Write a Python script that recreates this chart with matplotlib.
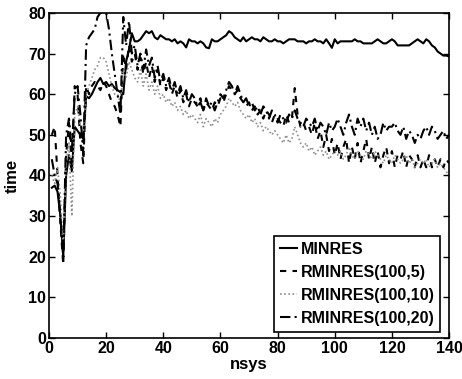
import numpy as np
import matplotlib
matplotlib.use("Agg")
from matplotlib import pyplot as plt

plt.rcParams['font.family'] = ['Liberation Sans', 'DejaVu Sans']

nsys = np.arange(1, 141)

minres = [
    37, 37.5, 36, 30, 20, 40, 45, 41, 52, 51,
    50, 49, 59.5, 59, 60, 61.5, 63, 64, 62.5, 63,
    62, 62.5, 61.5, 61, 60.5, 60, 68, 71, 75, 73,
    73, 73.5, 74.5, 75.5, 75, 75.5, 74, 73.5, 74.5, 74,
    73.5, 73.5, 73, 73.5, 72.5, 73, 72.5, 71.5, 73.5, 73,
    73, 72.5, 73, 72.5, 71.5, 71.3, 73.5, 73, 73, 73.5,
    74, 74.5, 75.5, 75, 74, 73.5, 73, 74, 73, 73.5,
    74, 73.5, 73.5, 73, 74, 73.5, 73, 73, 73.5, 73,
    73, 72.5, 73, 73.5, 73.5, 73.5, 73, 73, 73, 72.5,
    73, 73, 73.5, 73, 73, 72.5, 73.5, 72.5, 71.4, 73.5,
    72.5, 73, 73, 73, 73, 73, 73.5, 73, 73, 72.5,
    72.5, 72.5, 72.5, 73, 73.5, 73, 72.5, 72.5, 73, 73.5,
    73, 72, 72, 72, 72, 72, 72.5, 73, 73.5, 73,
    72.5, 73.5, 73, 72, 71.5, 70.5, 70, 69.5, 69.5, 69.3]

rminres_5 = [
    50, 52, 40, 28, 18, 45, 53, 42, 62, 60,
    48, 43, 62, 60, 62, 63, 62, 61, 63, 62,
    60, 58, 57, 55, 52, 70, 66, 72, 68, 70,
    66, 69, 65, 68, 64, 67, 63, 66, 62, 64,
    61, 63, 60, 62, 59, 61, 58, 60, 57, 59,
    58, 57, 59, 56, 58, 57, 56, 58, 57, 59,
    58, 60, 62, 61, 60, 61, 59, 58, 57, 58,
    56, 57, 55, 56, 54, 56, 55, 53, 55, 54,
    53, 52, 55, 53, 54, 61.5, 55, 52, 53, 51,
    52, 50, 53, 49, 51, 47, 50, 46, 49, 45,
    48, 44, 47, 49, 43, 47, 44, 48, 43, 46,
    49, 44, 47, 43, 46, 42, 45, 47, 43, 46,
    42, 45, 44, 46, 42, 45, 44, 42, 45, 42,
    44, 42, 45, 42, 44, 42, 44, 42, 44, 43]

rminres_10 = [
    40, 38, 42, 35, 22, 43, 48, 30, 55, 57,
    52, 50, 60, 62, 64, 66, 67, 69, 69, 68,
    65, 62, 60, 60, 58, 66, 64, 68, 66, 64,
    63, 66, 62, 65, 61, 63, 60, 62, 59, 60,
    58, 59, 57, 58, 56, 57, 55, 56, 54, 55,
    54, 53, 55, 52, 54, 53, 52, 54, 53, 55,
    56, 57, 59, 58, 57, 58, 56, 55, 54, 55,
    53, 54, 52, 53, 51, 52, 51, 50, 51, 50,
    49, 48, 50, 48, 49, 52, 50, 48, 47, 48,
    46, 47, 45, 46, 47, 45, 46, 44, 45, 46,
    45, 46, 44, 45, 47, 45, 44, 46, 45, 44,
    46, 45, 44, 46, 45, 44, 43, 45, 44, 43,
    45, 44, 43, 44, 45, 43, 44, 42, 43, 44,
    43, 44, 42, 43, 44, 42, 43, 42, 41, 40]

rminres_20 = [
    44, 40, 38, 30, 20, 50, 54, 46, 60, 62,
    55, 45, 72, 74, 75, 76, 79, 80, 80, 80,
    76, 70, 65, 60, 55, 79, 72, 78, 70, 72,
    67, 70, 66, 71, 67, 69, 64, 67, 63, 65,
    62, 64, 61, 63, 60, 62, 59, 61, 58, 60,
    59, 57, 58, 56, 59, 57, 58, 56, 58, 60,
    59, 61, 63, 62, 60, 62, 60, 58, 59, 57,
    58, 56, 57, 55, 57, 56, 54, 56, 55, 53,
    55, 54, 53, 55, 54, 56, 54, 53, 52, 54,
    53, 52, 54, 51, 53, 52, 50, 53, 51, 52,
    54, 52, 50, 53, 55, 52, 50, 54, 52, 54,
    51, 53, 50, 52, 49, 50, 53, 51, 52, 52,
    53, 51, 50, 52, 49, 51, 50, 48, 50, 49,
    51, 52, 50, 52, 51, 49, 50, 51, 49, 50]

labels = ["MINRES", "RMINRES(100,5)", "RMINRES(100,10)", "RMINRES(100,20)"]

fig = plt.figure(figsize=(4.62, 3.79), dpi=100)
ax = fig.add_axes([0.106, 0.108, 0.866, 0.858])

ax.plot(nsys, minres, color="black", lw=1.5, ls="-", label=labels[0])
ax.plot(nsys, rminres_5, color="black", lw=1.5, ls=(0, (3, 3)), label=labels[1])
ax.plot(nsys, rminres_10, color="#909090", lw=1.2, ls=(0, (1, 1.5)), label=labels[2])
ax.plot(nsys, rminres_20, color="black", lw=1.5, ls=(0, (5, 2, 1, 2)), label=labels[3])

ax.set_xlim(0, 140)
ax.set_ylim(0, 80)
ax.set_xticks(range(0, 141, 20))
ax.set_yticks(range(0, 81, 10))
ax.tick_params(direction="in", top=True, right=True, length=4, width=1,
               labelsize=11.5, pad=2)
for lab in ax.get_xticklabels() + ax.get_yticklabels():
    lab.set_fontweight("heavy")
for s in ax.spines.values():
    s.set_linewidth(1.2)

ax.set_xlabel("nsys", fontsize=12, fontweight="heavy", labelpad=1)
ax.set_ylabel("time", fontsize=12, fontweight="heavy", labelpad=6)

leg = ax.legend(loc="lower right", prop={"size": 11.5, "weight": "heavy"},
                handlelength=1.1, handletextpad=0.2, labelspacing=0.5,
                borderpad=0.35, borderaxespad=0.2, fancybox=False, framealpha=1,
                bbox_to_anchor=(0.985, 0.01))
leg.get_frame().set_edgecolor("black")
leg.get_frame().set_linewidth(1.2)

fig.savefig("out.png", dpi=100)
